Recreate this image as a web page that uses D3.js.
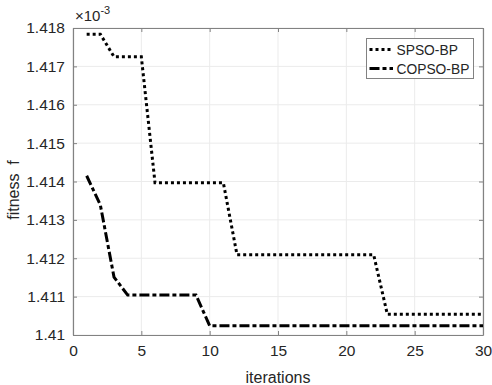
<!DOCTYPE html>
<html>
<head>
<meta charset="utf-8">
<script src="https://cdn.jsdelivr.net/npm/d3@7"></script>
<style>
  html, body { margin: 0; padding: 0; background: #fff; }
  svg { display: block; font-family: "Liberation Sans", Arial, sans-serif; }
</style>
</head>
<body>
<svg id="chart" width="492" height="385"></svg>
<script>
const iterations = d3.range(1, 31);
const spso = [
  1.41784, 1.41784, 1.41725, 1.41725, 1.41725,
  1.41397, 1.41397, 1.41397, 1.41397, 1.41397, 1.41397,
  1.41209, 1.41209, 1.41209, 1.41209, 1.41209, 1.41209, 1.41209, 1.41209, 1.41209, 1.41209, 1.41209,
  1.41054, 1.41054, 1.41054, 1.41054, 1.41054, 1.41054, 1.41054, 1.41054
];
const copso = [
  1.41415, 1.41339, 1.41151, 1.41104, 1.41104, 1.41104, 1.41104, 1.41104, 1.41104,
  1.41024, 1.41024, 1.41024, 1.41024, 1.41024, 1.41024, 1.41024, 1.41024, 1.41024, 1.41024, 1.41024,
  1.41024, 1.41024, 1.41024, 1.41024, 1.41024, 1.41024, 1.41024, 1.41024, 1.41024, 1.41024
];
const xTicks = [0, 5, 10, 15, 20, 25, 30];
const yTicks = [1.410, 1.411, 1.412, 1.413, 1.414, 1.415, 1.416, 1.417, 1.418];
const yTickLabels = ["1.41", "1.411", "1.412", "1.413", "1.414", "1.415", "1.416", "1.417", "1.418"];
const seriesNames = ["SPSO-BP", "COPSO-BP"];

const svg = d3.select("#chart");
const L = 73, R = 483, T = 28, B = 335;
const x = d3.scaleLinear().domain([0, 30]).range([L, R]);
const y = d3.scaleLinear().domain([1.410, 1.418]).range([B, T]);
const axisCol = "#828282", gridCol = "#ebebeb", textCol = "#262626";

// grid
const g = svg.append("g");
g.selectAll(".gx").data(xTicks).enter().append("line")
  .attr("x1", d => x(d)).attr("x2", d => x(d)).attr("y1", T).attr("y2", B)
  .attr("stroke", gridCol).attr("stroke-width", 1);
g.selectAll(".gy").data(yTicks).enter().append("line")
  .attr("x1", L).attr("x2", R).attr("y1", d => y(d)).attr("y2", d => y(d))
  .attr("stroke", gridCol).attr("stroke-width", 1);

// axes
const xAxis = d3.axisBottom(x).tickValues(xTicks).tickSizeInner(-4).tickSizeOuter(0).tickPadding(10);
const yAxis = d3.axisLeft(y).tickValues(yTicks).tickSizeInner(-4).tickSizeOuter(0).tickPadding(8)
  .tickFormat((d, i) => yTickLabels[i]);
const xa = svg.append("g").attr("transform", `translate(0,${B})`).call(xAxis);
const ya = svg.append("g").attr("transform", `translate(${L},0)`).call(yAxis);
const xTop = svg.append("g").attr("transform", `translate(0,${T})`)
  .call(d3.axisTop(x).tickValues(xTicks).tickSizeInner(-4).tickSizeOuter(0).tickFormat(""));
const yRight = svg.append("g").attr("transform", `translate(${R},0)`)
  .call(d3.axisRight(y).tickValues(yTicks).tickSizeInner(-4).tickSizeOuter(0).tickFormat(""));
[xa, ya, xTop, yRight].forEach(a => {
  a.selectAll("path").attr("stroke", axisCol).attr("stroke-width", 1.2);
  a.selectAll("line").attr("stroke", axisCol);
  a.selectAll("text").attr("fill", textCol).attr("font-size", 15.5)
    .attr("font-family", '"Liberation Sans", Arial, sans-serif');
});

// exponent label
const ex = svg.append("text").attr("x", 75).attr("y", 21).attr("fill", textCol)
  .attr("font-size", 15);
ex.append("tspan").text("×10");
ex.append("tspan").attr("dy", -7).attr("font-size", 11).text("-3");

// axis labels
svg.append("text").attr("x", x(15)).attr("y", 383).attr("text-anchor", "middle")
  .attr("fill", textCol).attr("font-size", 16).text("iterations");
svg.append("text").attr("transform", `translate(19,${190}) rotate(-90)`)
  .attr("text-anchor", "middle").attr("fill", textCol).attr("font-size", 16)
  .attr("xml:space", "preserve").style("white-space", "pre").text("fitness  f");

// lines
const line = d3.line().x((d, i) => x(iterations[i])).y(d => y(d));
svg.append("path").datum(spso).attr("d", line).attr("fill", "none")
  .attr("stroke", "#000").attr("stroke-width", 3).attr("stroke-dasharray", "3,3");
svg.append("path").datum(copso).attr("d", line).attr("fill", "none")
  .attr("stroke", "#000").attr("stroke-width", 3).attr("stroke-dasharray", "10,3,4,3");

// legend
const lg = svg.append("g");
lg.append("rect").attr("x", 366.5).attr("y", 38.5).attr("width", 107).attr("height", 40)
  .attr("fill", "#fff").attr("stroke", axisCol).attr("stroke-width", 1);
const dashes = ["3,3", "10,3,4,3"];
seriesNames.forEach((n, i) => {
  const yy = 49.5 + i * 19;
  lg.append("line").attr("x1", 369.5).attr("x2", 393).attr("y1", yy).attr("y2", yy)
    .attr("stroke", "#000").attr("stroke-width", 3).attr("stroke-dasharray", dashes[i]);
  lg.append("text").attr("x", 396.5).attr("y", yy + 5).attr("fill", textCol)
    .attr("font-size", 13.8).text(n);
});
</script>
</body>
</html>
